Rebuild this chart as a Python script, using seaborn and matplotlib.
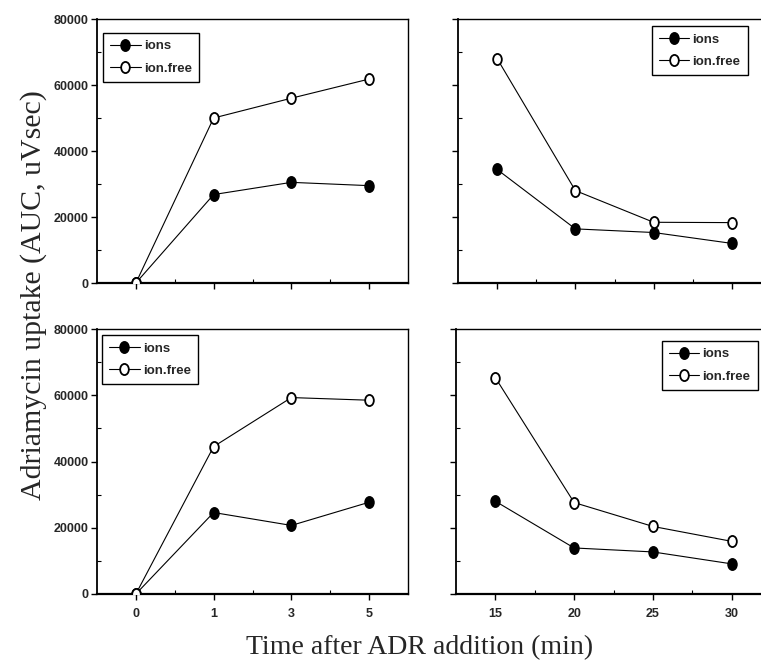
import matplotlib
matplotlib.use("Agg")
import matplotlib.pyplot as plt
import seaborn as sns
import pandas as pd
from matplotlib.ticker import MultipleLocator, FixedLocator
from matplotlib.path import Path
from matplotlib.transforms import Affine2D

sns.set_theme(style="ticks")
plt.rcParams['font.family'] = ['Liberation Sans', 'DejaVu Sans']

# ---- data ----
early_times = ["0", "1", "3", "5"]
late_times = [15, 20, 25, 30]
series_names = ["ions", "ion.free"]

top_early_ions = [0, 26800, 30500, 29500]
top_early_free = [0, 50000, 56000, 61800]
top_late_ions = [34400, 16400, 15300, 12000]
top_late_free = [68000, 28000, 18400, 18300]

bot_early_ions = [0, 24600, 20700, 27700]
bot_early_free = [0, 44500, 59300, 58500]
bot_late_ions = [28000, 13900, 12700, 9100]
bot_late_free = [65300, 27600, 20400, 15900]

y_ticks = [0, 20000, 40000, 60000, 80000]
y_ticklabels = ["0", "20000", "40000", "60000", "80000"]

fig = plt.figure(figsize=(7.61, 6.70), dpi=100)

W, H = 761, 670
def rect(l, t, r, b):
    return [l / W, 1 - b / H, (r - l) / W, (b - t) / H]

ax_tl = fig.add_axes(rect(97, 19, 408, 283))
ax_tr = fig.add_axes(rect(458, 19, 771, 283))
ax_bl = fig.add_axes(rect(97, 329, 408, 594))
ax_br = fig.add_axes(rect(456, 329, 771, 594))

ellipse = Path.unit_circle().transformed(Affine2D().scale(0.78, 1.0))

def draw(ax, xs, ions, free):
    df = pd.DataFrame({"x": list(xs) * 2,
                       "y": list(ions) + list(free),
                       "series": [series_names[0]] * len(xs) + [series_names[1]] * len(xs)})
    for name, fc in zip(series_names, ["black", "white"]):
        sub = df[df["series"] == name]
        sns.lineplot(data=sub, x="x", y="y", ax=ax, color="black", lw=0.8,
                     marker=ellipse, markersize=8, markerfacecolor=fc,
                     markeredgecolor="black", markeredgewidth=1.3, label=name,
                     zorder=3)
    ax.set_xlabel("")
    ax.set_ylabel("")
    ax.set_ylim(0, 80000)
    ax.yaxis.set_major_locator(FixedLocator(y_ticks))
    ax.yaxis.set_minor_locator(MultipleLocator(10000))
    for sp in ax.spines.values():
        sp.set_linewidth(1.0)
        sp.set_color("black")
    ax.spines["bottom"].set_linewidth(1.6)
    ax.spines["left"].set_linewidth(1.3)
    ax.tick_params(axis="y", which="major", direction="out", length=4, width=1, color="black")
    ax.tick_params(axis="y", which="minor", direction="in", length=3, width=0.8, color="black")
    ax.tick_params(axis="x", which="major", direction="out", length=4, width=1, color="black")
    ax.tick_params(axis="x", which="minor", direction="in", length=3, width=0.8, color="black")
    ax.tick_params(axis="y", labelsize=9, pad=2)
    ax.tick_params(axis="x", labelsize=9, pad=6)

pos_early = list(range(len(early_times)))

draw(ax_tl, pos_early, top_early_ions, top_early_free)
draw(ax_bl, pos_early, bot_early_ions, bot_early_free)
draw(ax_tr, late_times, top_late_ions, top_late_free)
draw(ax_br, late_times, bot_late_ions, bot_late_free)

for ax in (ax_tl, ax_bl):
    ax.set_xlim(-0.5, 3.5)
    ax.xaxis.set_major_locator(FixedLocator(pos_early))
    ax.xaxis.set_minor_locator(FixedLocator([0.5, 1.5, 2.5]))
    ax.set_yticks(y_ticks)
    ax.set_yticklabels(y_ticklabels, fontweight="bold", fontsize=9)

for ax in (ax_tr, ax_br):
    ax.set_xlim(12.5, 32.5)
    ax.xaxis.set_major_locator(FixedLocator(late_times))
    ax.xaxis.set_minor_locator(FixedLocator([17.5, 22.5, 27.5]))
    ax.tick_params(axis="y", labelleft=False)

ax_tl.tick_params(axis="x", labelbottom=False)
ax_tr.tick_params(axis="x", labelbottom=False)
ax_bl.set_xticklabels(early_times, fontweight="bold", fontsize=9)
ax_br.set_xticklabels([str(t) for t in late_times], fontweight="bold", fontsize=9)

def legend(ax, anchor, loc):
    leg = ax.legend(loc=loc, bbox_to_anchor=anchor, frameon=True, fancybox=False,
                    edgecolor="black", framealpha=1, handlelength=2.3,
                    handletextpad=0.25, borderpad=0.55, labelspacing=0.75,
                    borderaxespad=0.0,
                    prop={"weight": "bold", "size": 9.5})
    leg.get_frame().set_linewidth(1.0)

legend(ax_tl, (0.019, 0.947), "upper left")
legend(ax_bl, (0.016, 0.977), "upper left")
legend(ax_tr, (0.926, 0.973), "upper right")
legend(ax_br, (0.958, 0.955), "upper right")

fig.text(34 / W, 1 - 295 / H, "Adriamycin uptake (AUC, uVsec)", rotation=90,
         ha="center", va="center", fontsize=21.5, family="Liberation Serif")
fig.text(420 / W, 1 - 648 / H, "Time after ADR addition (min)",
         ha="center", va="center", fontsize=20, family="Liberation Serif")

fig.savefig("out.png", dpi=100)
